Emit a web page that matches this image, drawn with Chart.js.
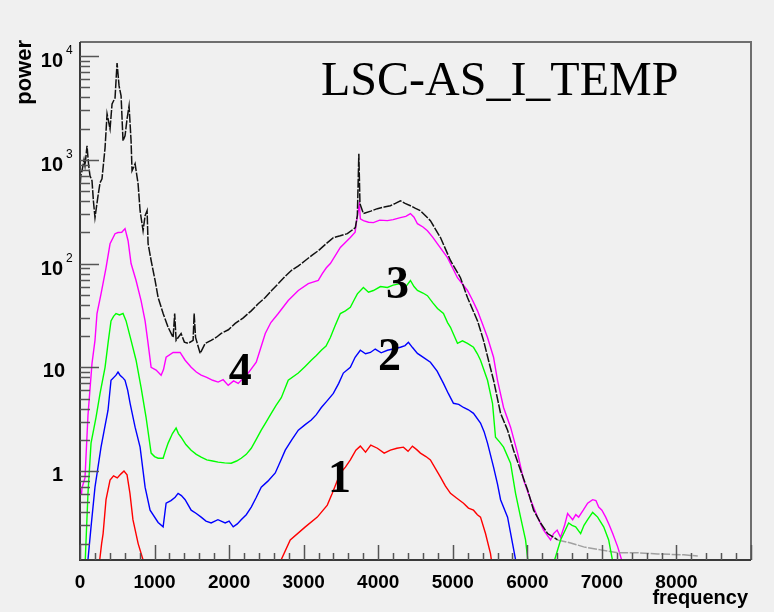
<!DOCTYPE html>
<html>
<head>
<meta charset="utf-8">
<script src="https://cdn.jsdelivr.net/npm/chart.js@4.4.1/dist/chart.umd.min.js"></script>
<style>
  html, body { margin: 0; padding: 0; background: #f0f0f0; }
  canvas { display: block; }
</style>
</head>
<body>
<canvas id="c" width="774" height="612"></canvas>
<script>
// LSC-AS_I_TEMP — spectres de puissance (style ROOT), axe y logarithmique

var blackFreq  = [5, 10, 27, 54, 67, 94, 115, 134, 161, 180, 201, 242, 269, 295, 336, 363, 403, 430, 470, 497, 524, 551, 577, 604, 631, 658, 685, 698, 739, 779, 806, 846, 873, 900, 913, 954, 1007, 1048, 1115, 1182, 1249, 1270, 1289, 1356, 1400, 1450, 1517, 1531, 1550, 1612, 1679, 1759, 1830, 1894, 1990, 2082, 2190, 2297, 2390, 2485, 2570, 2659, 2750, 2834, 2930, 3022, 3110, 3196, 3304, 3398, 3490, 3586, 3693, 3720, 3740, 3755, 3801, 3900, 3989, 4080, 4163, 4230, 4298, 4360, 4432, 4500, 4566, 4700, 4835, 4969, 5103, 5197, 5332, 5412, 5479, 5547, 5641, 5735, 5815, 5909, 6003, 6084, 6178, 6272, 6406, 6581, 6755, 6984, 7212, 7481, 7749, 8098, 8286];
var blackPower = [600, 700, 784, 1000, 875, 1365, 900, 702, 628, 400, 277, 451, 601, 656, 1304, 2767, 1986, 3453, 3945, 8570, 5150, 4125, 1523, 1702, 2477, 3306, 1523, 784, 915, 588, 323, 207, 289, 323, 156, 107, 68.7, 47, 33, 24.3, 19.4, 33, 18.2, 21.2, 17.5, 17, 18.2, 33, 19.4, 13.6, 17, 18.2, 19.5, 21.2, 23, 26.5, 30, 35, 41, 47, 55, 64, 75, 85.7, 95, 107, 120, 133, 156, 178, 185, 194, 222, 289, 1142, 377, 303, 320, 338, 350, 361, 380, 403, 380, 361, 340, 323, 259, 178, 107, 73, 47, 28, 18.2, 11.7, 7.5, 3.6, 2.48, 1.59, 1.02, 0.66, 0.42, 0.316, 0.25, 0.217, 0.203, 0.186, 0.174, 0.163, 0.163, 0.159, 0.156, 0.152];

var magentaFreq  = [20, 27, 67, 107, 161, 201, 228, 282, 349, 403, 470, 510, 560, 604, 645, 685, 752, 819, 873, 913, 954, 1021, 1088, 1120, 1155, 1249, 1343, 1410, 1491, 1560, 1625, 1700, 1780, 1853, 1920, 1988, 2060, 2122, 2200, 2256, 2364, 2485, 2560, 2659, 2793, 2928, 3062, 3196, 3250, 3304, 3358, 3492, 3626, 3690, 3707, 3747, 3760, 3801, 3870, 3935, 4020, 4123, 4200, 4298, 4370, 4432, 4480, 4526, 4600, 4660, 4730, 4795, 4929, 5000, 5063, 5197, 5260, 5332, 5400, 5466, 5547, 5600, 5681, 5775, 5869, 5950, 6044, 6137, 6218, 6312, 6352, 6400, 6446, 6500, 6540, 6608, 6650, 6688, 6750, 6809, 6876, 6920, 6957, 7000, 7051, 7100, 7145, 7212, 7292, 7310];
var magentaPower = [0.6, 0.69, 0.86, 3.45, 10.9, 18.2, 33, 51, 91, 155, 194, 199, 200, 217, 166, 100, 68.7, 44, 28, 17, 10, 9.4, 8.4, 9.5, 12.5, 13.9, 13.9, 11.7, 10, 9.0, 8.4, 8.0, 7.5, 7.2, 7.6, 6.7, 7.4, 7.0, 8.0, 8.8, 11.2, 21.2, 27, 33, 44, 55, 64, 68.7, 80, 91, 100, 143, 178, 200, 248, 377, 270, 259, 250, 248, 262, 259, 265, 277, 285, 303, 280, 242, 225, 207, 180, 155, 114, 90, 73, 55, 45, 35, 26, 19.4, 12.5, 7.5, 4.1, 2.65, 1.49, 0.82, 0.53, 0.36, 0.27, 0.217, 0.25, 0.27, 0.23, 0.3, 0.39, 0.34, 0.38, 0.36, 0.42, 0.49, 0.53, 0.52, 0.45, 0.42, 0.36, 0.30, 0.25, 0.186, 0.12, 0.1];

var greenFreq  = [60, 67, 107, 148, 215, 269, 336, 380, 416, 450, 483, 530, 577, 618, 685, 752, 819, 886, 954, 1000, 1048, 1115, 1150, 1182, 1240, 1289, 1320, 1356, 1420, 1491, 1560, 1625, 1700, 1780, 1853, 1940, 2028, 2100, 2162, 2230, 2297, 2360, 2431, 2500, 2565, 2630, 2700, 2793, 2928, 3020, 3102, 3170, 3237, 3300, 3358, 3420, 3492, 3560, 3626, 3680, 3720, 3801, 3870, 3935, 4030, 4123, 4200, 4298, 4370, 4432, 4480, 4526, 4600, 4660, 4730, 4795, 4875, 4930, 4969, 5063, 5130, 5197, 5278, 5330, 5372, 5466, 5533, 5573, 5630, 5681, 5775, 5842, 5909, 5976, 6017, 6030, 6330, 6339, 6446, 6554, 6600, 6648, 6715, 6760, 6809, 6876, 6943, 7024, 7091, 7158, 7170];
var greenPower = [0.1, 0.12, 0.61, 1.86, 3.3, 5.6, 10, 18, 28, 31, 33, 32, 33, 28, 18.2, 11.7, 6.4, 3.3, 1.49, 1.38, 1.33, 1.33, 1.6, 1.86, 2.3, 2.6, 2.3, 2.12, 1.8, 1.59, 1.45, 1.36, 1.28, 1.25, 1.22, 1.2, 1.19, 1.25, 1.33, 1.45, 1.66, 2.0, 2.48, 3.0, 3.6, 4.3, 5.1, 7.5, 8.8, 10.2, 11.7, 13, 14.6, 16, 19.4, 25, 33, 35, 37.8, 45, 51, 58.8, 53, 55, 60, 58.8, 62, 64, 60, 68.7, 60, 55, 52, 49, 42, 36.9, 33, 27, 24.3, 17, 18, 17, 15.6, 13.5, 11.7, 7.5, 4.5, 2.12, 1.9, 1.70, 1.19, 0.61, 0.36, 0.217, 0.12, 0.1, 0.1, 0.12, 0.217, 0.316, 0.3, 0.29, 0.25, 0.3, 0.34, 0.40, 0.36, 0.29, 0.217, 0.12, 0.1];

var blueFreq  = [90, 107, 148, 201, 282, 330, 376, 416, 483, 510, 537, 570, 604, 640, 672, 739, 806, 873, 940, 1048, 1115, 1155, 1220, 1276, 1316, 1360, 1410, 1491, 1560, 1625, 1690, 1759, 1850, 1947, 2000, 2055, 2110, 2162, 2230, 2297, 2360, 2431, 2520, 2619, 2690, 2753, 2840, 2928, 3020, 3102, 3170, 3237, 3320, 3398, 3470, 3532, 3626, 3690, 3760, 3830, 3895, 3960, 4040, 4123, 4200, 4298, 4360, 4405, 4460, 4526, 4610, 4700, 4790, 4875, 4940, 5009, 5080, 5144, 5210, 5278, 5372, 5420, 5466, 5547, 5600, 5641, 5735, 5802, 5842, 5860];
var bluePower = [0.1, 0.14, 0.29, 0.70, 1.70, 2.6, 3.86, 7.5, 8.4, 9.0, 8.4, 8.0, 7.5, 6.0, 4.5, 2.65, 1.70, 0.70, 0.42, 0.32, 0.29, 0.49, 0.52, 0.56, 0.61, 0.58, 0.53, 0.42, 0.39, 0.36, 0.33, 0.316, 0.34, 0.316, 0.33, 0.29, 0.31, 0.34, 0.38, 0.45, 0.55, 0.70, 0.80, 0.96, 1.25, 1.59, 2.0, 2.48, 2.8, 3.1, 3.5, 4.1, 4.8, 5.6, 7.0, 8.8, 10, 12.5, 14.6, 13.5, 13.9, 15.0, 13.8, 14.6, 15.0, 15.6, 16.2, 17.4, 15.5, 13.6, 12.4, 11.2, 9.2, 7.0, 5.6, 4.5, 4.4, 4.1, 3.9, 3.6, 2.9, 2.4, 1.86, 1.09, 0.75, 0.53, 0.36, 0.20, 0.14, 0.1];

var redFreq  = [250, 265, 290, 310, 349, 403, 450, 500, 550, 590, 631, 670, 710, 780, 845, 860, 2680, 2699, 2820, 3022, 3183, 3317, 3384, 3492, 3560, 3626, 3700, 3760, 3830, 3900, 3989, 4080, 4163, 4250, 4338, 4400, 4459, 4520, 4566, 4640, 4700, 4770, 4835, 4900, 4969, 5050, 5144, 5210, 5278, 5330, 5372, 5439, 5506, 5545];
var redPower = [0.1, 0.14, 0.2, 0.25, 0.53, 0.82, 0.9, 0.86, 0.94, 1.0, 0.92, 0.61, 0.34, 0.2, 0.14, 0.1, 0.1, 0.14, 0.217, 0.29, 0.36, 0.47, 0.61, 0.96, 1.09, 1.28, 1.59, 1.74, 1.52, 1.78, 1.66, 1.49, 1.59, 1.66, 1.70, 1.55, 1.74, 1.6, 1.49, 1.38, 1.28, 1.05, 0.875, 0.72, 0.61, 0.55, 0.49, 0.44, 0.42, 0.38, 0.36, 0.25, 0.16, 0.1];

var xMajorTicks = [0, 1000, 2000, 3000, 4000, 5000, 6000, 7000, 8000];
var xTickLabels = ['0', '1000', '2000', '3000', '4000', '5000', '6000', '7000', '8000'];
var yMajorTicks = [1, 10, 100, 1000, 10000];
var yTickBase   = ['1', '10', '10', '10', '10'];
var yTickExp    = ['', '', '2', '3', '4'];

// numéros des courbes (position en fréquence / puissance, ligne de base)
var curveLabels = [
  { text: '1', f: 3480, p: 0.63 },
  { text: '2', f: 4150, p: 9.4 },
  { text: '3', f: 4260, p: 47 },
  { text: '4', f: 2150, p: 6.7 }
];

var BG = '#f0f0f0';
var AXIS = '#555555';

function serie(fx, py, color, extra) {
  var ds = {
    data: fx.map(function (f, i) { return { x: f, y: py[i] }; }),
    borderColor: color, borderWidth: 1.4, pointRadius: 0, tension: 0, fill: false
  };
  for (var k in extra) ds[k] = extra[k];
  return ds;
}

var rootAxes = {
  id: 'rootAxes',
  beforeDraw: function (c) {
    var ctx = c.ctx;
    ctx.save();
    ctx.fillStyle = BG;
    ctx.fillRect(0, 0, c.width, c.height);
    ctx.restore();
  },
  afterDatasetsDraw: function (c) {
    var ctx = c.ctx, a = c.chartArea, sx = c.scales.x, sy = c.scales.y;
    ctx.save();

    // cadre
    ctx.strokeStyle = '#6e6e6e';
    ctx.lineWidth = 2;
    ctx.beginPath();
    ctx.moveTo(a.left, a.top); ctx.lineTo(a.right, a.top); ctx.lineTo(a.right, a.bottom);
    ctx.stroke();
    ctx.strokeStyle = '#3a3a3a';
    ctx.beginPath();
    ctx.moveTo(a.left, a.top); ctx.lineTo(a.left, a.bottom); ctx.lineTo(a.right, a.bottom);
    ctx.stroke();

    // graduations x (vers l'intérieur)
    ctx.strokeStyle = AXIS;
    ctx.lineWidth = 1.5;
    ctx.beginPath();
    for (var f = 0; f <= sx.max; f += 200) {
      var px = Math.round(sx.getPixelForValue(f)) + 0.5;
      var len = (f % 1000 === 0) ? 15 : 7;
      ctx.moveTo(px, a.bottom); ctx.lineTo(px, a.bottom - len);
    }
    // graduations y logarithmiques
    for (var e = -1; e <= 4; e++) {
      for (var m = 1; m <= 9; m++) {
        var v = m * Math.pow(10, e);
        if (v < sy.min || v > sy.max) continue;
        var py = Math.round(sy.getPixelForValue(v)) + 0.5;
        ctx.moveTo(a.left, py); ctx.lineTo(a.left + (m === 1 ? 19 : 10), py);
      }
    }
    ctx.stroke();

    // étiquettes x
    ctx.fillStyle = '#000';
    ctx.font = 'bold 19px "Liberation Sans", Arial, sans-serif';
    ctx.textAlign = 'center';
    ctx.textBaseline = 'alphabetic';
    xMajorTicks.forEach(function (t, i) {
      ctx.fillText(xTickLabels[i], sx.getPixelForValue(t), a.bottom + 28);
    });

    // étiquettes y (10 avec exposant)
    yMajorTicks.forEach(function (t, i) {
      var py = sy.getPixelForValue(t);
      ctx.font = 'bold 20px "Liberation Sans", Arial, sans-serif';
      ctx.textAlign = 'right';
      if (yTickExp[i]) {
        ctx.fillText(yTickBase[i], 63, py + 11);
        ctx.font = '12px "Liberation Sans", Arial, sans-serif';
        ctx.textAlign = 'left';
        ctx.fillText(yTickExp[i], 66, py - 2);
      } else {
        ctx.fillText(yTickBase[i], yTickBase[i].length > 1 ? 65 : 63, py + 10);
      }
    });

    // titres des axes
    ctx.font = 'bold 20px "Liberation Sans", Arial, sans-serif';
    ctx.textAlign = 'right';
    ctx.fillText('frequency', 748, 604);
    ctx.save();
    ctx.translate(31, 40);
    ctx.rotate(-Math.PI / 2);
    ctx.font = 'bold 22px "Liberation Sans", Arial, sans-serif';
    ctx.fillText('power', 0, 0);
    ctx.restore();

    // titre
    ctx.font = '48px "Liberation Serif", "Times New Roman", serif';
    ctx.textAlign = 'left';
    ctx.fillText('LSC-AS_I_TEMP', 321, 95);

    // numéros des courbes
    ctx.font = 'bold 46px "Liberation Serif", "Times New Roman", serif';
    ctx.textAlign = 'center';
    curveLabels.forEach(function (l) {
      ctx.fillText(l.text, sx.getPixelForValue(l.f), sy.getPixelForValue(l.p));
    });

    ctx.restore();
  }
};

new Chart(document.getElementById('c'), {
  type: 'line',
  data: {
    datasets: [
      serie(redFreq, redPower, '#ff0000'),
      serie(blueFreq, bluePower, '#0000ff'),
      serie(greenFreq, greenPower, '#00ff00'),
      serie(blackFreq, blackPower, '#000000', {
        borderWidth: 1.5,
        borderDash: [9, 1.5],
        segment: { borderColor: function (s) { return s.p0.parsed.x >= 6300 ? '#a0a0a0' : '#111111'; } }
      }),
      serie(magentaFreq, magentaPower, '#ff00ff')
    ]
  },
  options: {
    responsive: false,
    animation: false,
    devicePixelRatio: 1,
    layout: { padding: { left: 80, top: 42, right: 23, bottom: 52 } },
    plugins: { legend: { display: false }, tooltip: { enabled: false } },
    scales: {
      x: { type: 'linear', min: 0, max: 9000, display: false },
      y: { type: 'logarithmic', min: 0.139, max: 13650, display: false }
    }
  },
  plugins: [rootAxes]
});
</script>
</body>
</html>
